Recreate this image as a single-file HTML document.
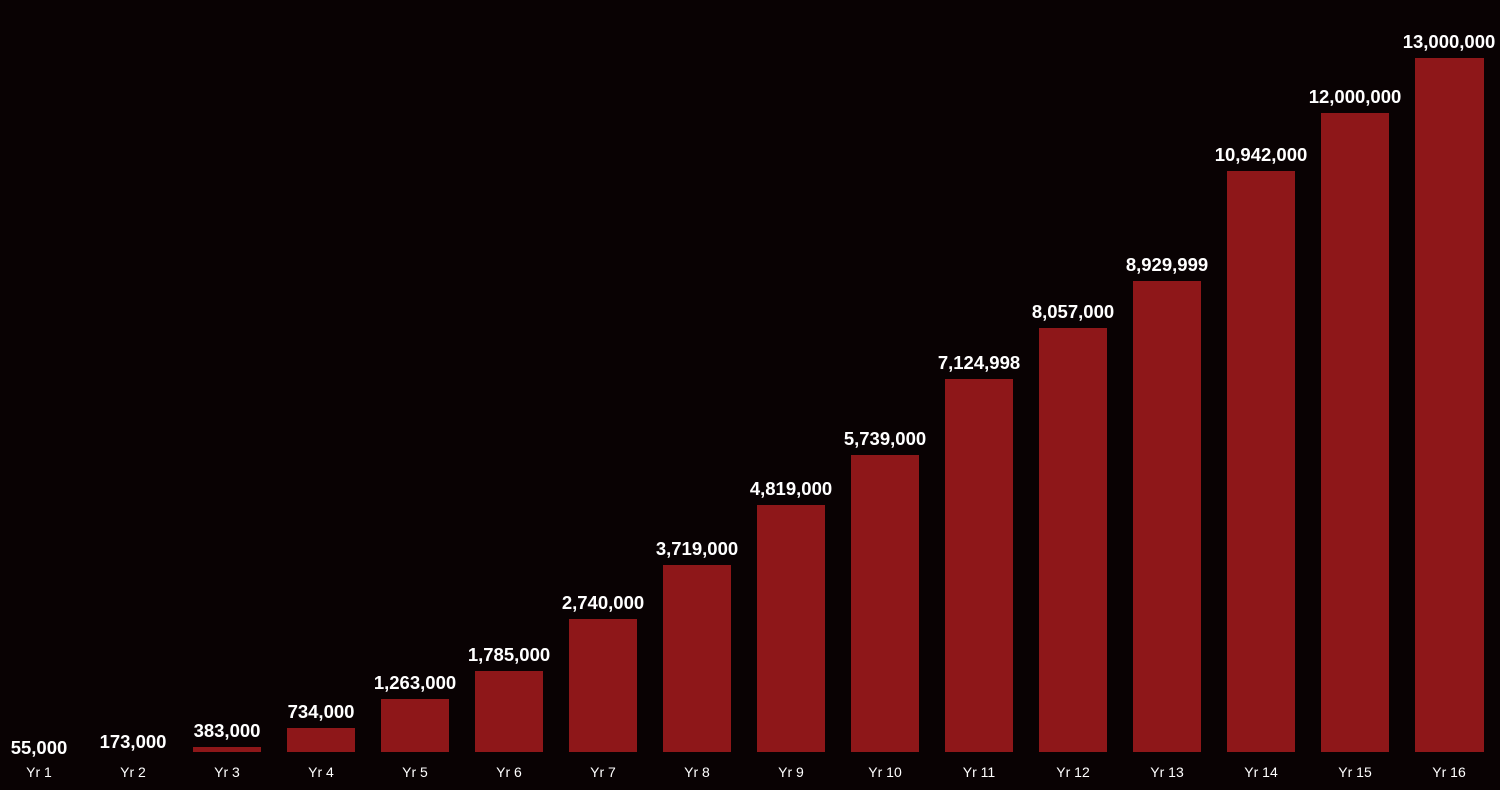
<!DOCTYPE html>
<html><head><meta charset="utf-8"><style>
html,body{margin:0;padding:0;background:#090203;}
svg{display:block}
text{font-family:"Liberation Sans",sans-serif;fill:#fff;text-anchor:middle}
.v{font-weight:bold;font-size:18.5px}
.c{font-size:14px}
</style></head><body>
<svg width="1500" height="790" xmlns="http://www.w3.org/2000/svg">
<rect width="1500" height="790" fill="#090203"/>
<g fill="#8e1719">
<rect x="193" y="747" width="68" height="5"/>
<rect x="287" y="728" width="68" height="24"/>
<rect x="381" y="699" width="68" height="53"/>
<rect x="475" y="671" width="68" height="81"/>
<rect x="569" y="619" width="68" height="133"/>
<rect x="663" y="565" width="68" height="187"/>
<rect x="757" y="505" width="68" height="247"/>
<rect x="851" y="455" width="68" height="297"/>
<rect x="945" y="379" width="68" height="373"/>
<rect x="1039" y="328" width="68" height="424"/>
<rect x="1133" y="281" width="68" height="471"/>
<rect x="1227" y="171" width="68" height="581"/>
<rect x="1321" y="113" width="68" height="639"/>
<rect x="1415" y="58" width="69" height="694"/>
</g>
<text class="v" x="39" y="754">55,000</text>
<text class="v" x="133" y="748">173,000</text>
<text class="v" x="227" y="737">383,000</text>
<text class="v" x="321" y="718">734,000</text>
<text class="v" x="415" y="689">1,263,000</text>
<text class="v" x="509" y="661">1,785,000</text>
<text class="v" x="603" y="609">2,740,000</text>
<text class="v" x="697" y="555">3,719,000</text>
<text class="v" x="791" y="495">4,819,000</text>
<text class="v" x="885" y="445">5,739,000</text>
<text class="v" x="979" y="369">7,124,998</text>
<text class="v" x="1073" y="318">8,057,000</text>
<text class="v" x="1167" y="271">8,929,999</text>
<text class="v" x="1261" y="161">10,942,000</text>
<text class="v" x="1355" y="103">12,000,000</text>
<text class="v" x="1449" y="48">13,000,000</text>
<text class="c" x="39" y="777">Yr 1</text>
<text class="c" x="133" y="777">Yr 2</text>
<text class="c" x="227" y="777">Yr 3</text>
<text class="c" x="321" y="777">Yr 4</text>
<text class="c" x="415" y="777">Yr 5</text>
<text class="c" x="509" y="777">Yr 6</text>
<text class="c" x="603" y="777">Yr 7</text>
<text class="c" x="697" y="777">Yr 8</text>
<text class="c" x="791" y="777">Yr 9</text>
<text class="c" x="885" y="777">Yr 10</text>
<text class="c" x="979" y="777">Yr 11</text>
<text class="c" x="1073" y="777">Yr 12</text>
<text class="c" x="1167" y="777">Yr 13</text>
<text class="c" x="1261" y="777">Yr 14</text>
<text class="c" x="1355" y="777">Yr 15</text>
<text class="c" x="1449" y="777">Yr 16</text>
</svg>
</body></html>
